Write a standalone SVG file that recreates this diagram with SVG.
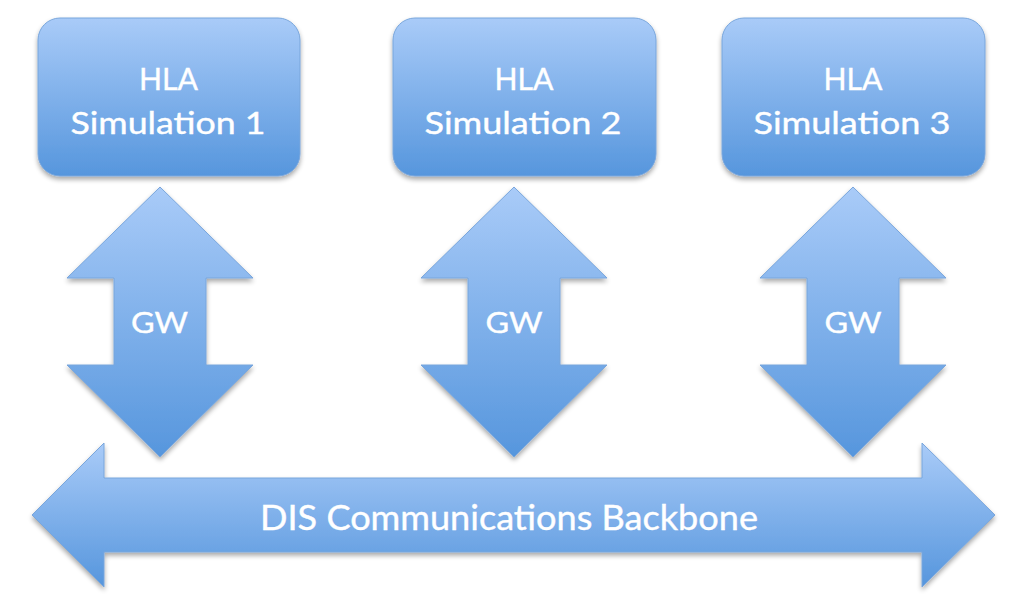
<svg xmlns="http://www.w3.org/2000/svg" width="1018" height="612" viewBox="0 0 1018 612">
<defs>
<linearGradient id="g" x1="0" y1="0" x2="0" y2="1">
<stop offset="0" stop-color="#a9cbf8"/>
<stop offset="1" stop-color="#5696dd"/>
</linearGradient>
<filter id="sh" x="-10%" y="-10%" width="120%" height="130%">
<feGaussianBlur in="SourceAlpha" stdDeviation="2.5"/>
<feOffset dy="3" result="b"/>
<feComponentTransfer><feFuncA type="linear" slope="0.35"/></feComponentTransfer>
<feMerge><feMergeNode/><feMergeNode in="SourceGraphic"/></feMerge>
</filter>
</defs>
<style>
.s{fill:url(#g);stroke:#79a6dc;stroke-width:1;filter:url(#sh)}
.t{font-family:Lato,"Open Sans","Liberation Sans",sans-serif;fill:#fff;text-anchor:middle;stroke:#fff;stroke-width:0.4}
.b{font-size:31px}
.w{font-size:29px}
.d{font-size:35px}
</style>
<rect width="1018" height="612" fill="#fff"/>
<g id="sim1">
<rect class="s" x="38" y="18" width="262" height="158" rx="22"/>
<text class="t b" x="168.5" y="90" textLength="59" lengthAdjust="spacingAndGlyphs">HLA</text>
<text class="t b" x="168" y="134" textLength="195" lengthAdjust="spacingAndGlyphs">Simulation 1</text>
</g>
<g id="sim2">
<rect class="s" x="393" y="18" width="263" height="158" rx="22"/>
<text class="t b" x="524" y="90" textLength="59" lengthAdjust="spacingAndGlyphs">HLA</text>
<text class="t b" x="523" y="134" textLength="197" lengthAdjust="spacingAndGlyphs">Simulation 2</text>
</g>
<g id="sim3">
<rect class="s" x="722" y="18" width="263" height="158" rx="22"/>
<text class="t b" x="853" y="90" textLength="59" lengthAdjust="spacingAndGlyphs">HLA</text>
<text class="t b" x="852" y="134" textLength="197" lengthAdjust="spacingAndGlyphs">Simulation 3</text>
</g>
<g id="connectors">
<g id="gw1">
<path class="s" d="M160 187 L253 278 L206 278 L206 365 L253 365 L160 457 L67 365 L114 365 L114 278 L67 278 Z"/>
<text class="t w" x="159.5" y="333" textLength="57" lengthAdjust="spacingAndGlyphs">GW</text>
</g>
<g id="gw2">
<path class="s" d="M514 187 L607 278 L560 278 L560 365 L607 365 L514 457 L421 365 L468 365 L468 278 L421 278 Z"/>
<text class="t w" x="514" y="333" textLength="57" lengthAdjust="spacingAndGlyphs">GW</text>
</g>
<g id="gw3">
<path class="s" d="M853 187 L946 278 L899 278 L899 365 L946 365 L853 457 L760 365 L807 365 L807 278 L760 278 Z"/>
<text class="t w" x="853" y="333" textLength="57" lengthAdjust="spacingAndGlyphs">GW</text>
</g>
<g id="backbone">
<path class="s" d="M32 515 L104 443 L104 478 L922 478 L922 443 L995 515 L922 587 L922 552 L104 552 L104 587 Z"/>
<text class="t d" x="509" y="530" textLength="498" lengthAdjust="spacingAndGlyphs">DIS Communications Backbone</text>
</g>
</g>
</svg>
